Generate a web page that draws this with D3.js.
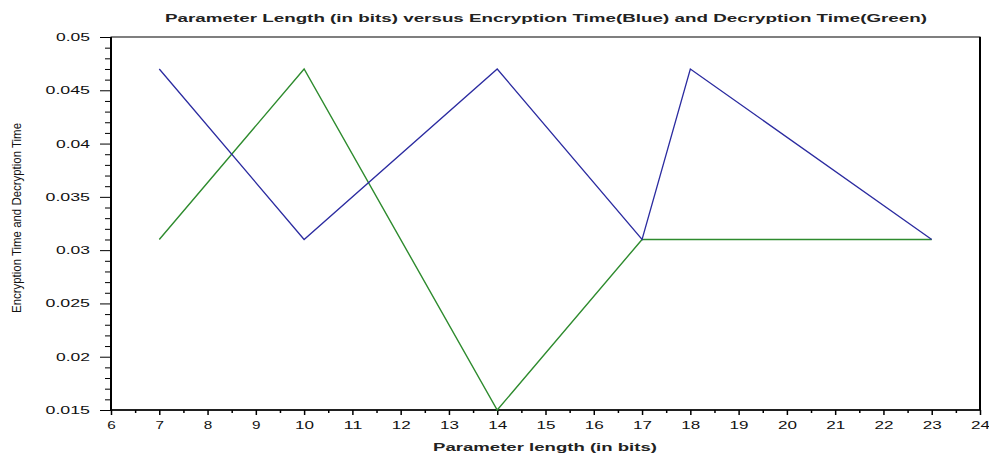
<!DOCTYPE html>
<html><head><meta charset="utf-8">
<script src="https://cdn.jsdelivr.net/npm/d3@7"></script>
<style>body{margin:0;background:#fff}svg{display:block}</style>
</head><body>
<script>
const titleText = "Parameter Length (in bits) versus Encryption Time(Blue) and Decryption Time(Green)";
const xLabel = "Parameter length (in bits)";
const yLabel = "Encryption Time and Decryption Time";
const encX = [7, 10, 14, 17, 18, 23];
const encY = [0.047, 0.031, 0.047, 0.031, 0.047, 0.031];
const decX = [7, 10, 14, 17, 23];
const decY = [0.031, 0.047, 0.015, 0.031, 0.031];
const xTicks = d3.range(6, 25, 1);
const xMinor = d3.range(6.5, 24, 1);
const yTicks = [0.015, 0.02, 0.025, 0.03, 0.035, 0.04, 0.045, 0.05];
const yTickLabels = ["0.015", "0.02", "0.025", "0.03", "0.035", "0.04", "0.045", "0.05"];
const yMinor = d3.range(16, 50, 1).filter(v => v % 5 !== 0).map(v => v / 1000);

const W = 989, H = 454;
const L = 111, R = 980, T = 37, B = 410;
const svg = d3.select("body").append("svg").attr("width", W).attr("height", H);
const x = d3.scaleLinear().domain([6, 24]).range([L, R]);
const y = d3.scaleLinear().domain([0.015, 0.05]).range([B, T]);
const font = "Liberation Sans, Arial, sans-serif";
const lenOf = s => s.split("").reduce((a, c) => a + (c === "." ? 4.5 : 10.5), 0) - 2;

// frame
svg.append("rect").attr("x", L).attr("y", T).attr("width", R - L).attr("height", B - T)
  .attr("fill", "none").attr("stroke", "#000").attr("stroke-width", 1);
svg.append("line").attr("x1", L).attr("x2", L).attr("y1", T).attr("y2", B).attr("stroke", "#000").attr("stroke-width", 2);
svg.append("line").attr("x1", R).attr("x2", R).attr("y1", T).attr("y2", B).attr("stroke", "#000").attr("stroke-width", 2);
svg.append("line").attr("x1", L).attr("x2", R).attr("y1", B).attr("y2", B).attr("stroke", "#000").attr("stroke-width", 1.5);

// x axis
const gx = svg.append("g").attr("transform", `translate(0,${B})`)
  .call(d3.axisBottom(x).tickValues(xTicks).tickSize(5).tickPadding(6).tickFormat(d3.format("d")));
gx.select(".domain").remove();
gx.selectAll("line").attr("stroke-width", 1.5);
gx.selectAll("text").attr("font-family", font).attr("font-size", 11).attr("fill", "#111")
  .attr("textLength", d => String(d).length * 10.5 - 2).attr("lengthAdjust", "spacingAndGlyphs");
svg.append("g").attr("transform", `translate(0,${B})`)
  .call(d3.axisBottom(x).tickValues(xMinor).tickSize(3).tickFormat(""))
  .call(g => g.select(".domain").remove()).selectAll("line").attr("stroke-width", 1.5);

// y axis
const gy = svg.append("g").attr("transform", `translate(${L},0)`)
  .call(d3.axisLeft(y).tickValues(yTicks).tickSize(11).tickPadding(10).tickFormat((d, i) => yTickLabels[i]));
gy.select(".domain").remove();
gy.selectAll("text").attr("font-family", font).attr("font-size", 11).attr("fill", "#111")
  .attr("textLength", (d, i) => lenOf(yTickLabels[i])).attr("lengthAdjust", "spacingAndGlyphs");
svg.append("g").attr("transform", `translate(${L},0)`)
  .call(d3.axisLeft(y).tickValues(yMinor).tickSize(6).tickFormat(""))
  .call(g => g.select(".domain").remove());

// lines
const line = d3.line().x(d => x(d[0])).y(d => y(d[1]));
svg.append("path").datum(decX.map((v, i) => [v, decY[i]])).attr("d", line)
  .attr("fill", "none").attr("stroke", "#2e8b2e").attr("stroke-width", 1.4);
svg.append("path").datum(encX.map((v, i) => [v, encY[i]])).attr("d", line)
  .attr("fill", "none").attr("stroke", "#2b2ba0").attr("stroke-width", 1.3);

// texts
svg.append("text").attr("x", 546).attr("y", 22).attr("text-anchor", "middle")
  .attr("font-family", font).attr("font-size", 11).attr("font-weight", "bold").attr("fill", "#222")
  .attr("textLength", 762).attr("lengthAdjust", "spacingAndGlyphs").text(titleText);
svg.append("text").attr("x", 545).attr("y", 451).attr("text-anchor", "middle")
  .attr("font-family", font).attr("font-size", 11).attr("font-weight", "bold").attr("fill", "#222")
  .attr("textLength", 224).attr("lengthAdjust", "spacingAndGlyphs").text(xLabel);
svg.append("text").attr("transform", "translate(21,218) rotate(-90)").attr("text-anchor", "middle")
  .attr("font-family", font).attr("font-size", 13.5).attr("fill", "#111")
  .attr("textLength", 190).attr("lengthAdjust", "spacingAndGlyphs").text(yLabel);
</script>
</body></html>
